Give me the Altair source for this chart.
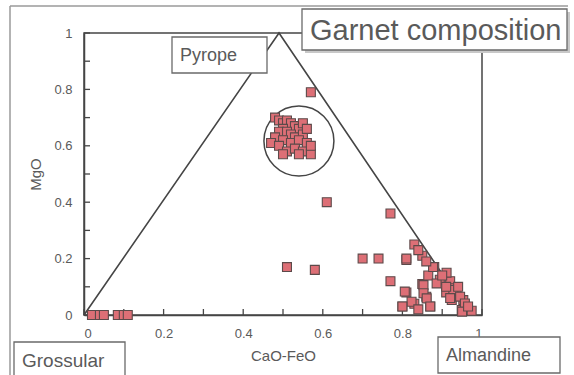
import altair as alt
import pandas as pd

# ---- data -------------------------------------------------------------
# ternary-style triangle outline (Grossular - Pyrope - Almandine)
tri_x = [0.0, 0.49, 0.97]
tri_y = [0.0, 1.0, 0.0]

# garnet analyses: CaO-FeO (x) versus MgO (y)
gar_x = [
    0.02, 0.04, 0.05, 0.085, 0.10, 0.11,
    0.48, 0.49, 0.50, 0.51, 0.52, 0.53, 0.54, 0.55, 0.50, 0.49, 0.51, 0.52,
    0.53, 0.55, 0.56, 0.48, 0.50, 0.52, 0.54, 0.56, 0.47, 0.49, 0.51, 0.53,
    0.55, 0.57, 0.57, 0.50, 0.54,
    0.57, 0.61, 0.77, 0.51, 0.58, 0.70, 0.74, 0.77, 0.81,
    0.80, 0.81, 0.83, 0.85, 0.86, 0.87,
    0.83, 0.85, 0.81, 0.88, 0.865, 0.894, 0.92, 0.93, 0.936, 0.924, 0.953,
    0.949, 0.974, 0.853, 0.853, 0.861, 0.87, 0.823, 0.806, 0.80, 0.911,
    0.877, 0.91, 0.928, 0.945, 0.957, 0.95, 0.886, 0.92, 0.91, 0.84,
    0.84, 0.86, 0.90, 0.94, 0.965,
]
gar_y = [
    0.0, 0.0, 0.0, 0.0, 0.0, 0.0,
    0.70, 0.69, 0.68, 0.69, 0.68, 0.67, 0.66, 0.68, 0.66, 0.65, 0.65, 0.64,
    0.63, 0.64, 0.66, 0.63, 0.62, 0.61, 0.62, 0.61, 0.61, 0.60, 0.58, 0.59,
    0.58, 0.57, 0.60, 0.57, 0.57,
    0.79, 0.40, 0.36, 0.17, 0.16, 0.20, 0.20, 0.12, 0.195,
    0.03, 0.08, 0.04, 0.11, 0.065, 0.03,
    0.25, 0.21, 0.20, 0.17, 0.14, 0.125, 0.12, 0.095, 0.083, 0.053, 0.053,
    0.018, 0.015, 0.106, 0.077, 0.059, 0.03, 0.047, 0.083, 0.03, 0.15,
    0.17, 0.08, 0.089, 0.065, 0.041, 0.012, 0.112, 0.06, 0.10, 0.02,
    0.23, 0.19, 0.14, 0.10, 0.03,
]

# circled group of Pyrope-rich garnets
ring_x = [0.54]
ring_y = [0.617]

ticks = [round(i * 0.1, 1) for i in range(11)]
labels = [0, 0.2, 0.4, 0.6, 0.8, 1]

# ---- styling ----------------------------------------------------------
FONT = "Liberation Sans"
INK = "#454545"
TXT = "#5a5a5a"
W, H = 398, 282

tri = pd.DataFrame({"x": tri_x, "y": tri_y, "i": range(len(tri_x))})
pts = pd.DataFrame({"x": gar_x, "y": gar_y})
ring = pd.DataFrame({"x": ring_x, "y": ring_y})
xtk = pd.DataFrame({"x": ticks})
ytk = pd.DataFrame({"y": ticks})
one = pd.DataFrame({"k": [0]})

xs = alt.Scale(domain=[0, 1], nice=False, zero=False)
ys = alt.Scale(domain=[0, 1], nice=False, zero=False)

xax = alt.Axis(values=labels, format="~g", tickSize=0, grid=False,
               labelPadding=12, titlePadding=8)
yax = alt.Axis(values=labels, format="~g", tickSize=0, grid=False,
               labelPadding=12, titlePadding=10)

X = alt.X("x:Q", scale=xs, axis=xax, title="CaO-FeO")
Y = alt.Y("y:Q", scale=ys, axis=yax, title="MgO")

triangle = alt.Chart(tri).mark_line(color=INK, strokeWidth=1.6).encode(
    x=X, y=Y, order="i:O")

x_ticks = alt.Chart(xtk).mark_rule(color=INK, strokeWidth=1.3).encode(
    x=X, y=alt.value(H), y2=alt.value(H - 6))
y_ticks = alt.Chart(ytk).mark_rule(color=INK, strokeWidth=1.3).encode(
    y=Y, x=alt.value(0), x2=alt.value(6))

circle = alt.Chart(ring).mark_point(
    shape="circle", filled=False, size=4900, color=INK, strokeWidth=1.5,
    opacity=1).encode(x=X, y=Y)

squares = alt.Chart(pts).mark_square(
    size=80, fill="#dd6f76", stroke="#5c4a4a", strokeWidth=1.1,
    opacity=1).encode(x=X, y=Y)


def frame_line(x0, x1, y0, y1):
    return alt.Chart(one).mark_rule(color="#9a9a9a", strokeWidth=1.5).encode(
        x=alt.value(x0), x2=alt.value(x1), y=alt.value(y0), y2=alt.value(y1))


def label_box(text, x0, x1, y0, y1, size, shadow=False):
    layers = []
    if shadow:
        layers.append(alt.Chart(one).mark_rect(color="#c8c8c8").encode(
            x=alt.value(x0 + 3), x2=alt.value(x1 + 3),
            y=alt.value(y0 + 3), y2=alt.value(y1 + 3)))
    layers.append(alt.Chart(one).mark_rect(
        fill="white", stroke="#6a6a6a", strokeWidth=1.3).encode(
        x=alt.value(x0), x2=alt.value(x1), y=alt.value(y0), y2=alt.value(y1)))
    layers.append(alt.Chart(one).mark_text(
        text=text, font=FONT, fontSize=size, color=TXT, align="left",
        baseline="middle").encode(
        x=alt.value(x0 + 8), y=alt.value((y0 + y1) / 2 + 1)))
    return layers


layers = [
    frame_line(-74, 484, -27, -27),
    frame_line(-74, -74, -27, 342),
    triangle, x_ticks, y_ticks, circle, squares,
]
layers += label_box("Pyrope", 88, 183, 4, 40, 18)
layers += label_box("Garnet composition", 218, 483, -24, 17, 29, shadow=True)
layers += label_box("Almandine", 354, 476, 304, 340, 18)
layers += label_box("Grossular", -70, 41, 309, 345, 19)

chart = alt.layer(*layers).properties(
    width=W, height=H,
    autosize=alt.AutoSizeParams(type="none"),
    padding={"left": 84, "top": 33, "right": 92, "bottom": 60},
    background="white",
).configure_view(
    stroke=INK, strokeWidth=1.5
).configure_axis(
    labelFont=FONT, titleFont=FONT, labelColor=TXT, titleColor=TXT,
    labelFontSize=13, titleFontSize=15, titleFontWeight="normal",
    domainColor=INK, domainWidth=1.5,
)

chart.save("out.html", embed_options={"renderer": "svg", "actions": False})
